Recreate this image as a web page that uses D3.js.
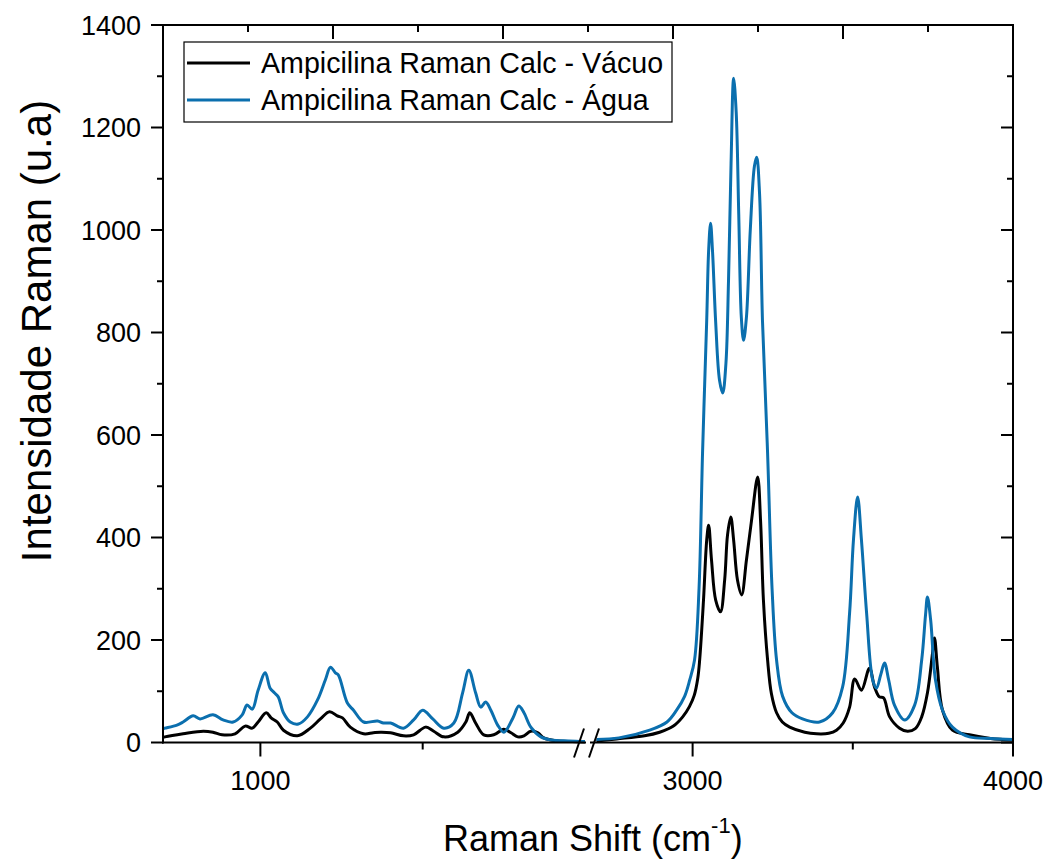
<!DOCTYPE html>
<html>
<head>
<meta charset="utf-8">
<script src="https://cdn.jsdelivr.net/npm/d3@7"></script>
<style>
  html, body { margin: 0; padding: 0; background: #ffffff; }
  svg text { font-family: "Liberation Sans", Arial, sans-serif; fill: #000; }
</style>
</head>
<body>
<svg id="chart" width="1051" height="861"></svg>
<script>
// ---------------- data ----------------
const seriesNames = ["Ampicilina Raman Calc - Vácuo", "Ampicilina Raman Calc - Água"];
const seriesColors = ["#000000", "#0b6fae"];

const yTicksMajor = [0, 200, 400, 600, 800, 1000, 1200, 1400];
const yTicksMinor = [100, 300, 500, 700, 900, 1100, 1300];
const xTicksLowMajor = [1000];
const xTicksLowMinor = [1500];
const xTicksHighMajor = [3000, 4000];
const xTicksHighMinor = [3500];

// Vácuo (black), low range 700-2000 cm-1
const vacuoLow = [
  [700, 10], [706, 11], [762, 17], [824, 22], [854, 20], [882, 15], [922, 17], [953, 32], [975, 28],
  [993, 40], [1018, 58], [1033, 48], [1052, 40], [1071, 24], [1114, 13], [1154, 28], [1185, 46],
  [1213, 60], [1237, 52], [1253, 48], [1277, 30], [1318, 17], [1348, 19], [1370, 20], [1401, 19],
  [1441, 13], [1472, 15], [1509, 30], [1534, 22], [1565, 11], [1608, 20], [1633, 40], [1645, 58],
  [1663, 38], [1688, 15], [1719, 15], [1750, 26], [1772, 19], [1793, 11], [1812, 13], [1833, 22],
  [1855, 19], [1873, 9], [1917, 3], [1960, 2], [2000, 1]
];
// Água (blue), low range
const aguaLow = [
  [700, 27], [706, 28], [743, 34], [762, 40], [793, 52], [814, 46], [854, 54], [885, 44], [916, 40],
  [944, 54], [959, 73], [975, 65], [993, 102], [1015, 136], [1030, 106], [1043, 97], [1055, 89],
  [1071, 58], [1092, 40], [1117, 36], [1145, 50], [1176, 83], [1200, 122], [1216, 147], [1231, 136],
  [1240, 132], [1268, 77], [1287, 63], [1318, 40], [1361, 42], [1379, 38], [1401, 38], [1441, 28],
  [1472, 44], [1500, 63], [1531, 46], [1565, 28], [1596, 38], [1623, 97], [1642, 141], [1663, 97],
  [1679, 69], [1694, 79], [1710, 63], [1731, 34], [1750, 20], [1778, 48], [1796, 71], [1812, 58],
  [1833, 30], [1864, 11], [1895, 5], [1950, 3], [2000, 2]
];
// Vácuo (black), high range 2700-4000 cm-1
const vacuoHigh = [
  [2700, 3], [2763, 7], [2850, 13], [2897, 20], [2940, 32], [2969, 50], [2990, 70], [3005, 92],
  [3016, 125], [3022, 161], [3034, 278], [3044, 395], [3050, 424], [3059, 356], [3072, 278],
  [3087, 255], [3100, 317], [3109, 405], [3119, 440], [3128, 395], [3140, 317], [3153, 288],
  [3168, 356], [3184, 434], [3203, 518], [3212, 434], [3221, 278], [3234, 161], [3246, 95],
  [3262, 58], [3280, 40], [3303, 30], [3350, 20], [3387, 17], [3425, 18], [3449, 24], [3470, 38],
  [3490, 69], [3506, 124], [3527, 102], [3552, 145], [3568, 108], [3583, 89], [3596, 87],
  [3615, 50], [3646, 28], [3671, 22], [3695, 27], [3715, 50], [3733, 97], [3749, 175], [3755, 204],
  [3764, 147], [3780, 63], [3811, 24], [3864, 15], [3930, 8], [4000, 5]
];
// Água (blue), high range
const aguaHigh = [
  [2700, 6], [2770, 9], [2866, 24], [2920, 40], [2950, 63], [2975, 90], [2991, 122], [3006, 161],
  [3020, 300], [3031, 565], [3044, 824], [3050, 960], [3056, 1013], [3062, 960], [3072, 820],
  [3084, 707], [3094, 682], [3104, 740], [3112, 900], [3120, 1130], [3128, 1296], [3136, 1230],
  [3144, 1030], [3152, 830], [3159, 785], [3168, 830], [3180, 1000], [3193, 1125], [3200, 1142],
  [3209, 1070], [3218, 824], [3234, 565], [3248, 300], [3262, 161], [3281, 90], [3310, 58],
  [3343, 46], [3396, 40], [3437, 58], [3468, 108], [3490, 253], [3502, 395], [3515, 479],
  [3527, 395], [3543, 253], [3562, 122], [3574, 106], [3587, 132], [3599, 155], [3612, 122],
  [3630, 73], [3662, 44], [3693, 73], [3715, 161], [3727, 249], [3733, 284], [3743, 239],
  [3758, 122], [3780, 63], [3811, 30], [3864, 11], [3930, 8], [4000, 6]
];

(function draw() {
const svg = d3.select("#chart");
const pLeft = 163, pRight = 1013, pTop = 25, pBottom = 742.5;
const breakL = 586, breakR = 590;

const y = d3.scaleLinear().domain([0, 1400]).range([pBottom, pTop]);
const xLow = d3.scaleLinear().domain([700, 2000]).range([pLeft, 585]);
const xHigh = d3.scaleLinear().domain([2700, 4000]).range([596.5, pRight]);
const xTop = d3.scaleLinear().domain([0, 10]).range([pLeft, pRight]);

const defs = svg.append("defs");
defs.append("clipPath").attr("id", "clipLow").append("rect")
  .attr("x", pLeft).attr("y", pTop - 5).attr("width", breakL - pLeft).attr("height", pBottom - pTop + 10);
defs.append("clipPath").attr("id", "clipHigh").append("rect")
  .attr("x", breakR).attr("y", pTop - 5).attr("width", pRight - breakR).attr("height", pBottom - pTop + 10);

function lineGen(xs) {
  return d3.line().x(d => xs(d[0])).y(d => y(d[1])).curve(d3.curveCatmullRom.alpha(0.5));
}

const gLow = svg.append("g").attr("clip-path", "url(#clipLow)");
const gHigh = svg.append("g").attr("clip-path", "url(#clipHigh)");
[[vacuoLow, 0], [aguaLow, 1]].forEach(([d, i]) => {
  gLow.append("path").datum(d).attr("d", lineGen(xLow))
    .attr("fill", "none").attr("stroke", seriesColors[i]).attr("stroke-width", 3)
    .attr("stroke-linejoin", "round");
});
[[vacuoHigh, 0], [aguaHigh, 1]].forEach(([d, i]) => {
  gHigh.append("path").datum(d).attr("d", lineGen(xHigh))
    .attr("fill", "none").attr("stroke", seriesColors[i]).attr("stroke-width", 3)
    .attr("stroke-linejoin", "round");
});

const ax = svg.append("g").attr("stroke", "#000").attr("stroke-width", 2).attr("fill", "none");
ax.append("line").attr("x1", pLeft).attr("x2", pLeft).attr("y1", pTop - 1).attr("y2", pBottom + 1);
ax.append("line").attr("x1", pRight).attr("x2", pRight).attr("y1", pTop - 1).attr("y2", pBottom + 1);
ax.append("line").attr("x1", pLeft - 1).attr("x2", pRight + 1).attr("y1", pTop).attr("y2", pTop);
ax.append("line").attr("x1", pLeft - 1).attr("x2", breakL).attr("y1", pBottom).attr("y2", pBottom);
ax.append("line").attr("x1", breakR).attr("x2", pRight + 1).attr("y1", pBottom).attr("y2", pBottom);

const MAJ = 12, MIN = 6;
yTicksMajor.forEach(v => {
  ax.append("line").attr("x1", pLeft - MAJ).attr("x2", pLeft).attr("y1", y(v)).attr("y2", y(v));
  ax.append("line").attr("x1", pRight - MAJ).attr("x2", pRight).attr("y1", y(v)).attr("y2", y(v));
});
yTicksMinor.forEach(v => {
  ax.append("line").attr("x1", pLeft - MIN).attr("x2", pLeft).attr("y1", y(v)).attr("y2", y(v));
  ax.append("line").attr("x1", pRight - MIN).attr("x2", pRight).attr("y1", y(v)).attr("y2", y(v));
});
xTicksLowMajor.forEach(v => ax.append("line").attr("x1", xLow(v)).attr("x2", xLow(v)).attr("y1", pBottom).attr("y2", pBottom + 14));
xTicksLowMinor.forEach(v => ax.append("line").attr("x1", xLow(v)).attr("x2", xLow(v)).attr("y1", pBottom).attr("y2", pBottom + 7));
xTicksHighMajor.forEach(v => ax.append("line").attr("x1", xHigh(v)).attr("x2", xHigh(v)).attr("y1", pBottom).attr("y2", pBottom + 14));
xTicksHighMinor.forEach(v => ax.append("line").attr("x1", xHigh(v)).attr("x2", xHigh(v)).attr("y1", pBottom).attr("y2", pBottom + 7));
d3.range(0, 11).forEach(i => {
  const len = i % 2 === 0 ? 14 : 7;
  ax.append("line").attr("x1", xTop(i)).attr("x2", xTop(i)).attr("y1", pTop).attr("y2", pTop + len);
});
[579, 594].forEach(cx => {
  ax.append("line").attr("x1", cx - 5).attr("y1", pBottom + 15).attr("x2", cx + 5).attr("y2", pBottom - 14);
});

const tl = svg.append("g").attr("font-size", 27);
yTicksMajor.forEach(v => {
  tl.append("text").attr("x", pLeft - 22).attr("y", y(v)).attr("dy", "0.36em")
    .attr("text-anchor", "end").text(v);
});
xTicksLowMajor.forEach(v => tl.append("text").attr("x", xLow(v)).attr("y", 790).attr("text-anchor", "middle").text(v));
xTicksHighMajor.forEach(v => tl.append("text").attr("x", xHigh(v)).attr("y", 790).attr("text-anchor", "middle").text(v));

svg.append("text").attr("transform", "translate(51,331) rotate(-90)")
  .attr("text-anchor", "middle").attr("font-size", 42).text("Intensidade Raman (u.a)");
const xt = svg.append("text").attr("x", 443).attr("y", 851).attr("font-size", 36);
xt.append("tspan").text("Raman Shift (cm");
xt.append("tspan").attr("font-size", 22).attr("dy", -18).text("-1");
xt.append("tspan").attr("dy", 18).text(")");

const lg = svg.append("g");
lg.append("rect").attr("x", 184).attr("y", 42).attr("width", 488).attr("height", 80)
  .attr("fill", "#fff").attr("stroke", "#000").attr("stroke-width", 1.2);
seriesNames.forEach((n, i) => {
  const cy = 63 + i * 37;
  lg.append("line").attr("x1", 187).attr("x2", 250).attr("y1", cy).attr("y2", cy)
    .attr("stroke", seriesColors[i]).attr("stroke-width", 3);
  lg.append("text").attr("x", 261).attr("y", cy).attr("dy", "0.36em").attr("font-size", 28.6).text(n);
});
})();
</script>
</body>
</html>
